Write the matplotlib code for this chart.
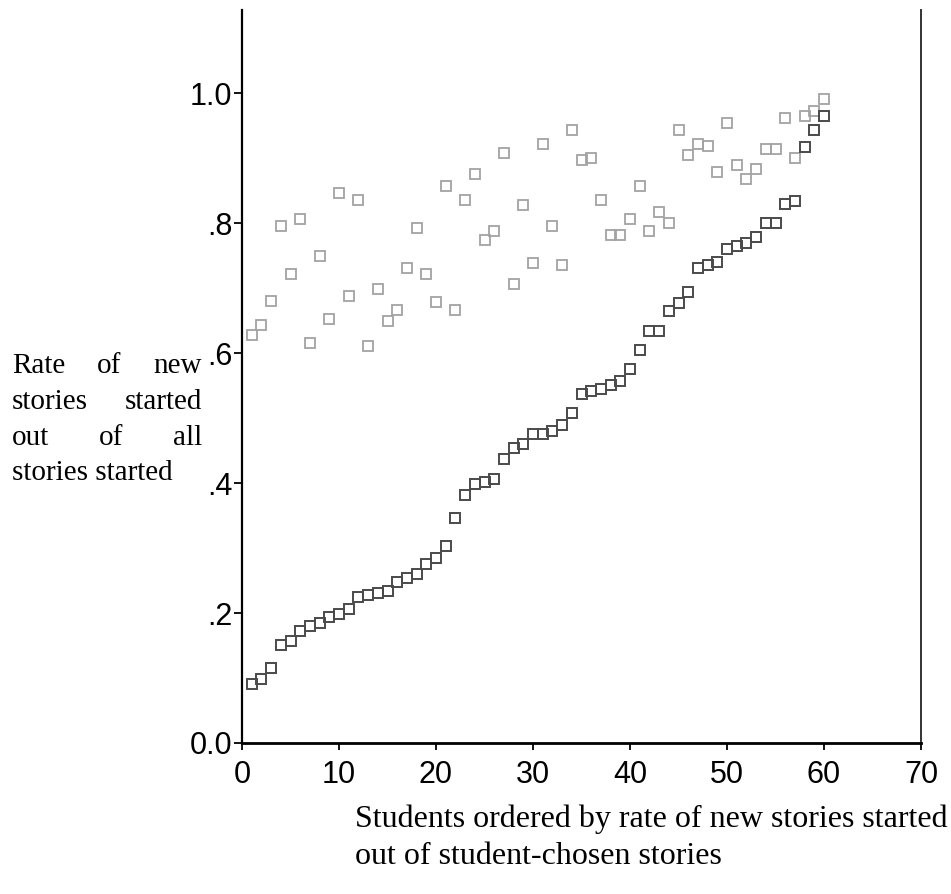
import matplotlib
matplotlib.use('Agg')
import matplotlib.pyplot as plt
from matplotlib.ticker import FixedLocator, FixedFormatter

# Data
student = list(range(1, 61))

# rate of new stories started out of student-chosen stories (dark, sorted)
rate_chosen = [0.091, 0.098, 0.115, 0.151, 0.157, 0.172, 0.180, 0.185, 0.194, 0.198,
               0.206, 0.225, 0.228, 0.231, 0.234, 0.248, 0.254, 0.260, 0.275, 0.285,
               0.303, 0.346, 0.382, 0.398, 0.402, 0.406, 0.437, 0.454, 0.460, 0.475,
               0.475, 0.480, 0.489, 0.508, 0.537, 0.542, 0.545, 0.551, 0.557, 0.575,
               0.605, 0.634, 0.634, 0.665, 0.677, 0.694, 0.731, 0.735, 0.740, 0.760,
               0.765, 0.769, 0.778, 0.800, 0.800, 0.829, 0.834, 0.917, 0.943, 0.965]

# rate of new stories started out of all stories started (light)
rate_all = [0.628, 0.643, 0.680, 0.795, 0.722, 0.806, 0.615, 0.749, 0.652, 0.846,
            0.688, 0.835, 0.611, 0.698, 0.649, 0.666, 0.731, 0.792, 0.722, 0.678,
            0.857, 0.666, 0.835, 0.875, 0.774, 0.788, 0.908, 0.706, 0.828, 0.738,
            0.922, 0.795, 0.735, 0.943, 0.897, 0.900, 0.835, 0.782, 0.782, 0.806,
            0.857, 0.788, 0.817, 0.800, 0.943, 0.905, 0.922, 0.918, 0.878, 0.954,
            0.889, 0.868, 0.883, 0.914, 0.914, 0.962, 0.900, 0.965, 0.972, 0.991]

x_ticks = [0, 10, 20, 30, 40, 50, 60, 70]
y_ticks = [0.0, 0.2, 0.4, 0.6, 0.8, 1.0]
y_tick_labels = ['0.0', '.2', '.4', '.6', '.8', '1.0']

ylabel_lines = [['Rate', 'of', 'new'], ['stories', 'started'], ['out', 'of', 'all']]
ylabel_last = 'stories started'
xlabel_lines = ['Students ordered by rate of new stories started',
                'out of student-chosen stories']

W, H = 951, 894
fig = plt.figure(figsize=(W / 100, H / 100), dpi=100)
ax = fig.add_axes([242 / W, 1 - 743 / H, (921 - 242) / W, (743 - 10) / H])

ax.plot(student, rate_all, linestyle='none', marker='s', ms=7.2, mfc='none',
        mec='#a3a3a3', mew=1.3)
ax.plot(student, rate_chosen, linestyle='none', marker='s', ms=7.2, mfc='none',
        mec='#4a4a4a', mew=1.4)

ax.set_xlim(0, 70)
ax.set_ylim(0, 1.128)
ax.xaxis.set_major_locator(FixedLocator(x_ticks))
ax.yaxis.set_major_locator(FixedLocator(y_ticks))
ax.yaxis.set_major_formatter(FixedFormatter(y_tick_labels))

ax.spines['top'].set_visible(False)
ax.spines['left'].set_linewidth(1.6)
ax.spines['bottom'].set_linewidth(2.0)
ax.spines['right'].set_linewidth(1.4)
ax.spines['right'].set_color('#333333')
ax.tick_params(axis='y', direction='out', length=6, width=1.3, pad=1,
               labelsize=22, labelfontfamily='Liberation Sans')
ax.tick_params(axis='x', direction='out', length=5, width=1.3, pad=7,
               labelsize=22, labelfontfamily='Liberation Sans')

# justified y label, placed word by word
serif = 'Liberation Serif'
fs = 21
renderer = fig.canvas.get_renderer()
x0, x1 = 12, 202
baselines = [373, 409, 445, 480]
for line, yb in zip(ylabel_lines, baselines):
    texts = [fig.text(0, 1 - yb / H, w, fontsize=fs, family=serif, va='baseline')
             for w in line]
    widths = [t.get_window_extent(renderer).width for t in texts]
    gap = (x1 - x0 - sum(widths)) / (len(line) - 1)
    xpos = x0
    for t, w in zip(texts, widths):
        t.set_x(xpos / W)
        xpos += w + gap
fig.text(x0 / W, 1 - baselines[3] / H, ylabel_last, fontsize=fs, family=serif,
         va='baseline')

for line, yb in zip(xlabel_lines, [827, 864]):
    fig.text(355 / W, 1 - yb / H, line, fontsize=23, family=serif, va='baseline')

fig.savefig('out.png', dpi=100)
